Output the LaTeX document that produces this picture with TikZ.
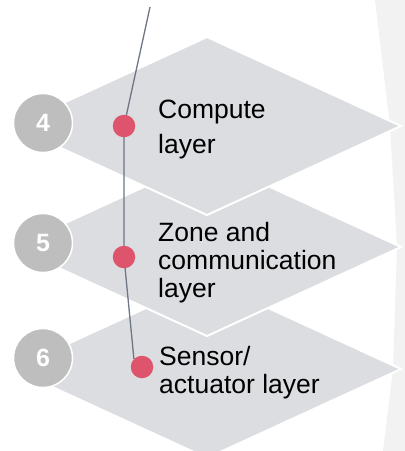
\documentclass[tikz,border=0pt]{standalone}
\usepackage{fontspec}
\setmainfont{Liberation Sans}
\usetikzlibrary{backgrounds}

\definecolor{slabgray}{HTML}{DCDDE1}
\definecolor{panelgray}{HTML}{F2F2F2}
\definecolor{numgray}{HTML}{BEBEBE}
\definecolor{stoppink}{HTML}{DE546C}
\definecolor{wiregray}{HTML}{6D7682}

\tikzset{
	slab/.style={fill=slabgray, draw=white, line width=2pt, line join=miter},
	num/.style={circle, fill=numgray, draw=white, line width=1.5pt, minimum size=59pt, inner sep=0pt,
		text=white, font=\fontsize{25}{25}\selectfont\bfseries},
	stop/.style={circle, fill=stoppink, minimum size=22.5pt, inner sep=0pt},
	wire/.style={wiregray, line width=1.3pt},
	caption/.style={anchor=base west, inner sep=0pt, align=left, font=\fontsize{26.5}{28}\selectfont}
}

\begin{document}
\begin{tikzpicture}[x=1pt, y=-1pt]
	\clip (0,0) rectangle (405,451);

	% Numbers
	\node[num] (n4) at (43,123) {4};
	\node[num] (n5) at (43,243) {5};
	\node[num] (n6) at (43,358) {6};

	% Stops on the path
	\coordinate (top) at (150,7);
	\node[stop] (s4) at (124,126) {};
	\node[stop] (s5) at (124,257) {};
	\node[stop] (s6) at (142,367) {};

	% Texts (anchored on the last line)
	\node[caption] (t4) at (158,153) {Compute\\[7pt]layer};
	\node[caption] (t5) at (158,297) {Zone and\\communication\\layer};
	\node[caption] (t6) at (159,393) {Sensor/\\actuator layer};

	\begin{pgfonlayer}{background}
		% Backdrop
		\fill[panelgray] (375,0) -- (390,126) -- (397,247) -- (393,369) -- (383,451) -- (405,451) -- (405,0) -- cycle;

		% Layers, bottom one first
		\foreach \y in {369,247,126}
			\draw[slab] (207,\y-89) -- (401,\y) -- (207,\y+89) -- (13,\y) -- cycle;

		% Path
		\draw[wire] (top) -- (s4.center) -- (s5.center) -- (s6.north west);
	\end{pgfonlayer}
\end{tikzpicture}
\end{document}
